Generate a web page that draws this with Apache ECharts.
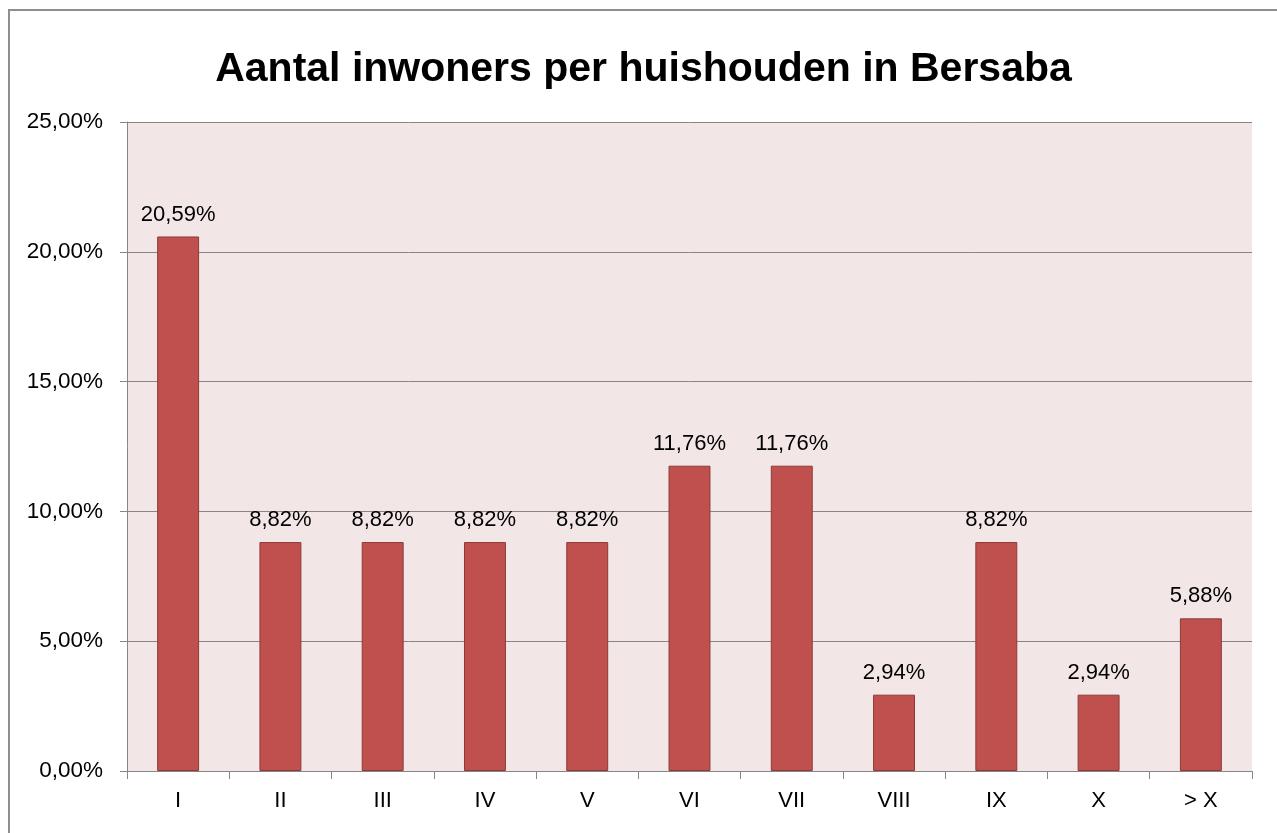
<!DOCTYPE html>
<html>
<head>
<meta charset="utf-8">
<script src="https://cdn.jsdelivr.net/npm/echarts@6/dist/echarts.min.js"></script>
<style>
  html, body { margin: 0; padding: 0; background: #fff; }
  #chart { position: absolute; left: 8px; top: 9px; width: 1269px; height: 824px;
           border-top: 2px solid #8e8e8e; border-left: 2px solid #8e8e8e; box-sizing: border-box; }
</style>
</head>
<body>
<div id="chart"></div>
<script>
// categorieën en percentages
const categories = ['I', 'II', 'III', 'IV', 'V', 'VI', 'VII', 'VIII', 'IX', 'X', '> X']
const shares = [20.59, 8.82, 8.82, 8.82, 8.82, 11.76, 11.76, 2.94, 8.82, 2.94, 5.88]
const yTicks = [0, 5, 10, 15, 20, 25]

const fmt = v => v.toFixed(2).replace('.', ',') + '%'
const font = '"Liberation Sans", Arial, sans-serif'

const chart = echarts.init(document.getElementById('chart'))
chart.setOption({
  animation: false,
  title: {
    text: 'Aantal inwoners per huishouden in Bersaba',
    left: 'center',
    top: 33,
    textStyle: { fontFamily: font, fontSize: 41, fontWeight: 'bold', color: '#000' }
  },
  grid: {
    left: 117, right: 25, top: 111, bottom: 62,
    show: true, backgroundColor: '#f2e6e6', borderWidth: 0
  },
  xAxis: {
    type: 'category',
    data: categories,
    axisLine: { lineStyle: { color: '#868686', width: 1 } },
    axisTick: { show: true, length: 8, lineStyle: { color: '#868686' } },
    axisLabel: { fontFamily: font, fontSize: 22, color: '#000', margin: 19 }
  },
  yAxis: {
    type: 'value',
    min: yTicks[0],
    max: yTicks[yTicks.length - 1],
    interval: 5,
    axisLine: { show: true, lineStyle: { color: '#868686' } },
    axisTick: { show: true, length: 7, lineStyle: { color: '#868686' } },
    splitLine: { lineStyle: { color: '#868686', width: 1 } },
    axisLabel: { fontFamily: font, fontSize: 22.5, color: '#000', margin: 24, formatter: v => fmt(v) }
  },
  series: [{
    type: 'bar',
    data: shares,
    barWidth: '41%',
    itemStyle: { color: '#c0504d', borderColor: '#8c3a38', borderWidth: 1 },
    label: {
      show: true,
      position: 'top',
      distance: 11,
      fontFamily: font,
      fontSize: 22,
      color: '#000',
      formatter: p => fmt(p.value)
    }
  }]
})
</script>
</body>
</html>
